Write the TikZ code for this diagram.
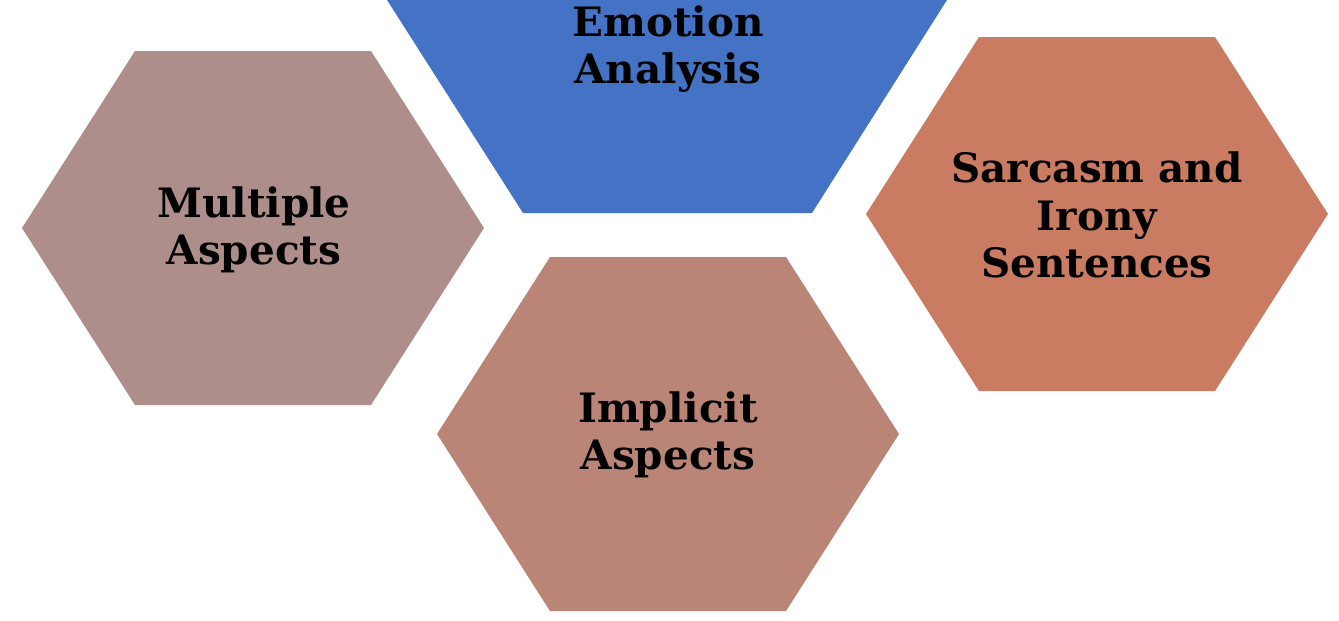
\documentclass[tikz,border=0pt]{standalone}
\usepackage{fontspec}
\setmainfont{DejaVu Serif}
\definecolor{hexblue}{HTML}{4472C4}
\definecolor{hexmauve}{HTML}{AE8E8A}
\definecolor{hexrose}{HTML}{BA8577}
\definecolor{hexcoral}{HTML}{C97C62}
\newcommand{\myhexagon}[3]{\fill[#1] (#2-231,#3) -- (#2-118,#3-177) -- (#2+118,#3-177) -- (#2+231,#3) -- (#2+118,#3+177) -- (#2-118,#3+177) -- cycle;}
\tikzset{hexlabel/.style={align=center,font=\fontsize{40.5}{47.5}\selectfont\bfseries,text=black,inner sep=0pt}}
\begin{document}
\begin{tikzpicture}[x=1pt,y=-1pt]
\useasboundingbox (0,0) rectangle (1339,621);
\fill[white] (0,0) rectangle (1339,621);
% Emotion Analysis (cut off at top)
\fill[hexblue] (387,0) -- (523,213) -- (812,213) -- (947,0) -- cycle;
\myhexagon{hexmauve}{253}{228}
\myhexagon{hexrose}{668}{434}
\myhexagon{hexcoral}{1097}{214}
\node[hexlabel] (emo) at (668,49) {Emotion\\Analysis};
\node[hexlabel] (mult) at (254,230) {Multiple\\Aspects};
\node[hexlabel] (impl) at (668,435) {Implicit\\Aspects};
\node[hexlabel] (sarc) at (1097,215) {Sarcasm and\\Irony\\Sentences};
\end{tikzpicture}
\end{document}
